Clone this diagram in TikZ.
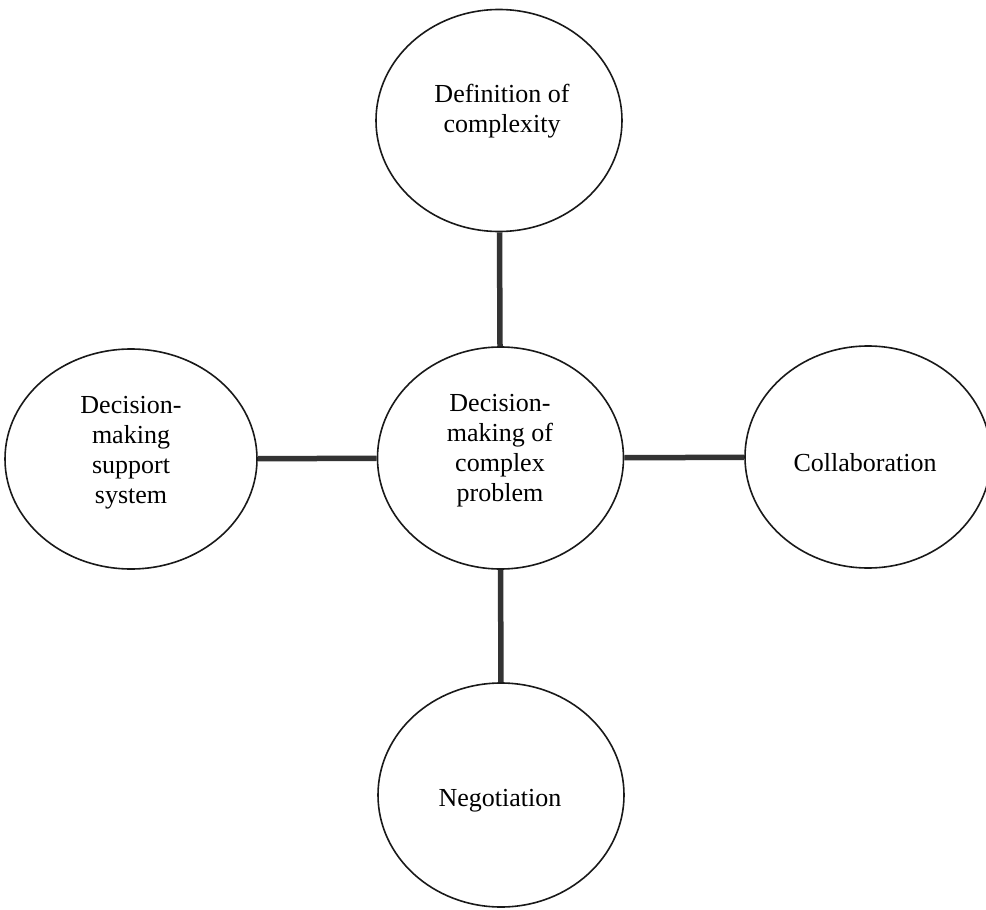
\documentclass[tikz,border=0pt]{standalone}
\usepackage{fontspec}
\setmainfont{Liberation Serif}
\usetikzlibrary{shapes.geometric}
\begin{document}
\begin{tikzpicture}[x=1pt,y=-1pt,
  bubble/.style={draw=black!90, line width=1.6pt, ellipse, inner sep=0pt,
    minimum width=246pt, minimum height=222pt},
  caption/.style={align=center, font=\fontsize{26}{30}\selectfont, inner sep=0pt},
  link/.style={draw=black!80, line width=5.5pt}]
\useasboundingbox (0,0) rectangle (986,910);
\clip (0,0) rectangle (986,910);

% the five topic bubbles
\node[bubble] (top) at (499,120.5) {};
\node[bubble, minimum width=252pt, minimum height=220pt] (left) at (131,459) {};
\node[bubble] (mid) at (500.5,458) {};
\node[bubble] (right) at (868,457) {};
\node[bubble, minimum height=224pt] (bottom) at (501,795) {};

% spokes from the central bubble
\draw[link] (top) -- (mid);
\draw[link] (left) -- (mid);
\draw[link] (mid) -- (right);
\draw[link] (mid) -- (bottom);

% captions
\node[caption] (ttop) at (502,111.5) {Definition of\\complexity};
\node[caption] (tleft) at (131,453) {Decision-\\making\\support\\system};
\node[caption] (tmid) at (500,451) {Decision-\\making of\\complex\\problem};
\node[caption] (tright) at (865,463) {Collaboration};
\node[caption] (tbottom) at (500,801) {Negotiation};
\end{tikzpicture}
\end{document}
